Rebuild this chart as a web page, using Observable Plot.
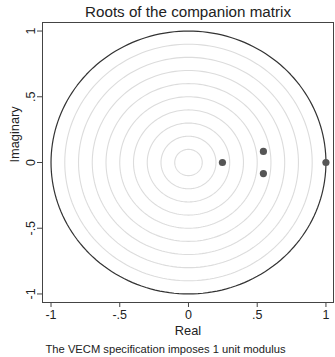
<!DOCTYPE html>
<html>
<head>
<meta charset="utf-8">
<script src="https://cdn.jsdelivr.net/npm/d3@7"></script>
<script src="https://cdn.jsdelivr.net/npm/@observablehq/plot@0.6"></script>
<style>
  html, body { margin: 0; padding: 0; background: #fff; }
  svg { font-family: "Liberation Sans", Arial, sans-serif; }
</style>
</head>
<body>
<div id="chart"></div>
<script>
// Eigenvalues (roots of the companion matrix)
const realParts = [0.247, 0.545, 0.545, 1.0];
const imagParts = [0.0, 0.084, -0.084, 0.0];
// Reference circles
const gridRadii = [0.1, 0.2, 0.3, 0.4, 0.5, 0.6, 0.7, 0.8, 0.9];
const unitRadius = [1];
// Tick labels
const tickValues = [-1, -0.5, 0, 0.5, 1];
const tickLabels = ["-1", "-.5", "0", ".5", "1"];

const titleText = "Roots of the companion matrix";
const captionText = "The VECM specification imposes 1 unit modulus";

const roots = realParts.map((re, i) => ({re, im: imagParts[i]}));

function circlePoints(radii) {
  const pts = [];
  for (const r of radii) {
    for (let a = 0; a <= 360; a += 2) {
      const t = a * Math.PI / 180;
      pts.push({r, x: r * Math.cos(t), y: r * Math.sin(t)});
    }
  }
  return pts;
}

const fmt = d => tickLabels[tickValues.indexOf(d)];

const chart = Plot.plot({
  width: 335,
  height: 357,
  marginLeft: 42,
  marginRight: 2,
  marginTop: 22,
  marginBottom: 55,
  style: {fontFamily: '"Liberation Sans", Arial, sans-serif', fontSize: "12px", color: "#222"},
  x: {domain: [-1.062, 1.055]},
  y: {domain: [-1.065, 1.065]},
  marks: [
    Plot.line(circlePoints(gridRadii), {x: "x", y: "y", z: "r", stroke: "#dcdcdc", strokeWidth: 1.1}),
    Plot.line(circlePoints(unitRadius), {x: "x", y: "y", z: "r", stroke: "#333", strokeWidth: 1.2}),
    Plot.dot(roots, {x: "re", y: "im", r: 3.6, fill: "#555", stroke: "none"}),
    Plot.frame({stroke: "#444", strokeWidth: 1}),
    Plot.axisX({ticks: tickValues, tickFormat: fmt, tickSize: 5, tickPadding: 3, fontSize: 12.5, label: null, stroke: "#444"}),
    Plot.axisY({ticks: tickValues, tickFormat: fmt, tickSize: 5, tickPadding: 3, tickRotate: -90, fontSize: 12.5, label: null, stroke: "#444"}),
    Plot.text([titleText], {frameAnchor: "top", lineAnchor: "middle", dy: -10, fontSize: 15.2, fill: "#222"}),
    Plot.text(["Real"], {frameAnchor: "bottom", lineAnchor: "middle", dy: 28.5, fontSize: 12.8, fill: "#222"}),
    Plot.text(["Imaginary"], {frameAnchor: "left", lineAnchor: "middle", dx: -28, rotate: -90, fontSize: 12.8, fill: "#222"}),
    Plot.text([captionText], {frameAnchor: "bottom-left", lineAnchor: "middle", dx: 3, dy: 46.5, textAnchor: "start", fontSize: 11.2, fill: "#222"})
  ]
});
document.getElementById("chart").appendChild(chart);
</script>
</body>
</html>
